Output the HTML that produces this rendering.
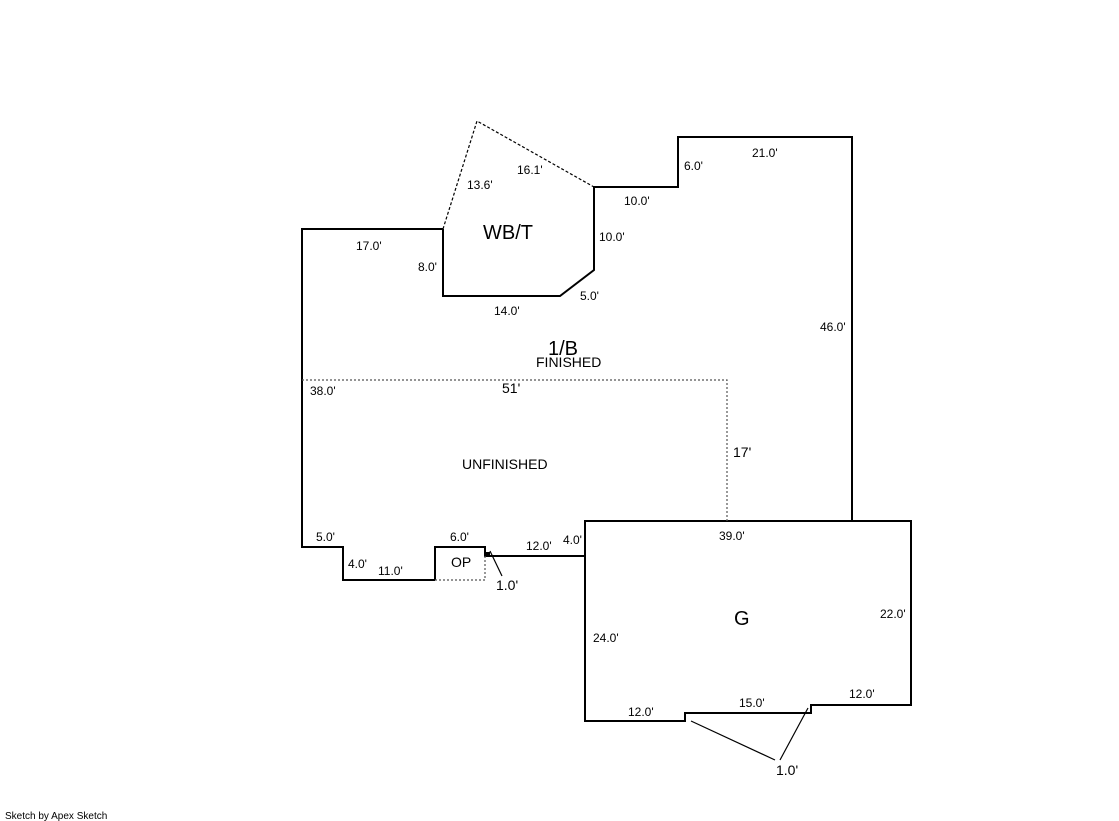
<!DOCTYPE html>
<html><head><style>
html,body{margin:0;padding:0;background:#fff;}
svg{display:block;}
text{font-family:"Liberation Sans",Arial,sans-serif;fill:#000;}
.s{font-size:12px;}
</style></head><body>
<svg width="1119" height="821" viewBox="0 0 1119 821" xmlns="http://www.w3.org/2000/svg">
<g fill="none" stroke="#000" stroke-width="2">
<polyline points="443,229 302,229 302,547 343,547 343,580 435,580"/>
<polyline points="443,229 443,296 560,296 594,270 594,187 678,187 678,137 852,137 852,521"/>
<polyline points="435,580 435,547 485,547 485,556 487,556 487,553 489,553 489,556 585,556"/>
<polyline points="585,556 585,521 911,521 911,705 811,705 811,713 685,713 685,721 585,721 585,556"/>
</g>
<g fill="none" stroke="#000" stroke-width="1.2" stroke-dasharray="3,2">
<polyline points="443,229 477,121 594,187"/>
</g>
<g fill="none" stroke="#555" stroke-width="1.2" stroke-dasharray="2,2">
<polyline points="302,380 727,380 727,521"/>
<polyline points="435,580 485,580 485,556"/>
</g>
<g stroke="#000" stroke-width="1.2" fill="none">
<line x1="502" y1="576" x2="490" y2="551"/>
<line x1="775" y1="760" x2="691" y2="721"/>
<line x1="780" y1="760" x2="808" y2="708"/>
</g>
<text x="483" y="239" font-size="20">WB/T</text>
<text x="548" y="355" font-size="20">1/B</text>
<text x="536" y="367" font-size="14">FINISHED</text>
<text x="462" y="469" font-size="14">UNFINISHED</text>
<text x="734" y="625" font-size="20">G</text>
<text x="451" y="567" font-size="14">OP</text>
<text x="502" y="393" font-size="14">51'</text>
<text x="733" y="457" font-size="14">17'</text>
<text x="496" y="590" font-size="14">1.0'</text>
<text x="776" y="775" font-size="14">1.0'</text>
<g class="s">
<text x="467" y="189">13.6'</text>
<text x="517" y="174">16.1'</text>
<text x="356" y="250">17.0'</text>
<text x="418" y="271">8.0'</text>
<text x="494" y="315">14.0'</text>
<text x="580" y="300">5.0'</text>
<text x="599" y="241">10.0'</text>
<text x="624" y="205">10.0'</text>
<text x="684" y="170">6.0'</text>
<text x="752" y="157">21.0'</text>
<text x="820" y="331">46.0'</text>
<text x="310" y="395">38.0'</text>
<text x="316" y="541">5.0'</text>
<text x="348" y="568">4.0'</text>
<text x="378" y="575">11.0'</text>
<text x="450" y="541">6.0'</text>
<text x="526" y="550">12.0'</text>
<text x="563" y="544">4.0'</text>
<text x="719" y="540">39.0'</text>
<text x="880" y="618">22.0'</text>
<text x="593" y="642">24.0'</text>
<text x="628" y="716">12.0'</text>
<text x="739" y="707">15.0'</text>
<text x="849" y="698">12.0'</text>
</g>
<text x="5" y="819" font-size="10">Sketch by Apex Sketch</text>
</svg>
</body></html>
